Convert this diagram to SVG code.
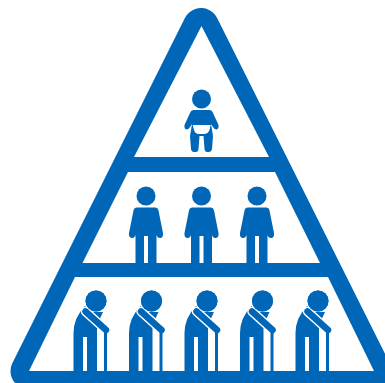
<svg xmlns="http://www.w3.org/2000/svg" width="385" height="383" viewBox="0 0 385 383">
<style>
.b{fill:#0067b8}
.w{fill:#fff}
.la{fill:none;stroke:#0067b8;stroke-linecap:round;stroke-linejoin:round}
</style>
<defs>
<g id="adult">
<circle class="b" cx="0" cy="-40" r="9.500"/>
<path class="b" d="M-9 -28.500H9Q12 -28.500 12.500 -25.500L17 -3Q17.500 1.500 14.500 2Q11.500 2.500 10.500 -1V27H2V0H-2V27H-10.500V-1Q-11.500 2.500 -14.500 2Q-17.500 1.500 -17 -3L-12.500 -25.500Q-12 -28.500 -9 -28.500Z"/>
</g>
<g id="elder">
<circle class="b" cx="0" cy="-70" r="10.500"/>
<path class="b" d="M-22.500 0V-38Q-22.500 -53 -11 -65L-4 -59H7L1 -46V0H-9V-34H-13V0Z"/>
<path d="M-10.500 -59.500L10 -41" fill="none" stroke="#fff" stroke-width="9.500" stroke-linecap="round"/>
<path class="la" d="M-10.500 -59.500L10 -41" stroke-width="6.500"/>
<circle class="b" cx="0" cy="-70" r="10.500"/>
<path class="b" d="M8 -39H11V0H8Z"/>
</g>
</defs>
<g id="pyramid">
<path d="M201 26L373.500 371H28.500Z" fill="#0067b8" stroke="#0067b8" stroke-width="36" stroke-linejoin="round"/>
<path class="w" d="M201.500 26L269 157H134Z"/>
<path class="w" d="M128 172H275L320 263H82.500Z"/>
<path class="w" d="M75 277H328L374 371H29Z"/>
</g>
<g id="baby">
<circle class="b" cx="201.500" cy="99" r="9.500"/>
<path class="b" d="M194 110H209Q212 110 213 113L218.500 125Q219 129 216.500 129.500Q214.500 129.500 213 127L211 124L213 136L212 149Q211.500 152 208.500 152H207Q205 152 204.500 149L203.500 136H199.500L198.500 149Q198 152 196 152H194Q191.500 152 191 149L190 136L192 124L190 127Q188.500 129.500 186.500 129.500Q184 129 184.500 125L190 113Q191 110 194 110Z"/>
<path class="w" d="M192.700 125H210.700L209.500 130Q208 134 204 134H199Q195 134 194 130Z"/>
</g>
<g id="adult1"><use href="#adult" x="146" y="236"/></g>
<g id="adult2"><use href="#adult" x="201.500" y="236"/></g>
<g id="adult3"><use href="#adult" x="257" y="236"/></g>
<g id="elder1"><use href="#elder" x="96" y="371"/></g>
<g id="elder2"><use href="#elder" x="151.500" y="371"/></g>
<g id="elder3"><use href="#elder" x="207" y="371"/></g>
<g id="elder4"><use href="#elder" x="262.500" y="371"/></g>
<g id="elder5"><use href="#elder" x="318" y="371"/></g>
</svg>
